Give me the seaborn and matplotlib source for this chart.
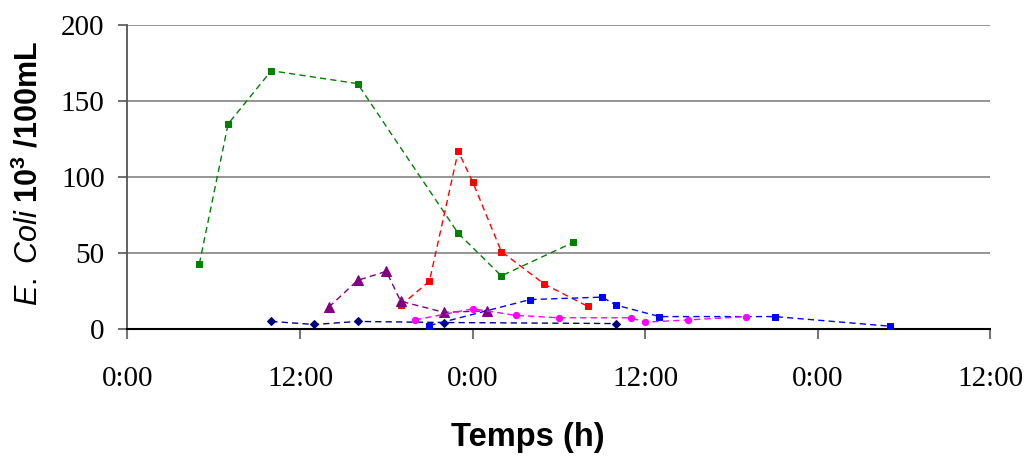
import matplotlib
matplotlib.use("Agg")
import matplotlib.pyplot as plt
import seaborn as sns
import pandas as pd

# hours since start (0:00 of day 1)
green_t = [5, 7, 10, 16, 23, 26, 31]
green_v = [43, 135, 170, 161.5, 63, 35, 57]
red_t = [19, 21, 23, 24, 26, 29, 32]
red_v = [15.5, 31.5, 117, 97, 51, 29.5, 15]
purple_t = [14, 16, 18, 19, 22, 25]
purple_v = [14.4, 32, 38, 18.3, 11, 12]
navy_t = [10, 13, 16, 22, 34]
navy_v = [5, 3, 5, 4.3, 3.6]
blue_t = [21, 28, 33, 34, 37, 45, 53]
blue_v = [2.3, 19.4, 21, 15.7, 8.2, 8.2, 1.9]
magenta_t = [20, 24, 27, 30, 35, 36, 39, 43]
magenta_v = [6, 13.3, 9, 7.4, 7.4, 4.5, 6, 8.2]

xticks = [0, 12, 24, 36, 48, 60]
xtick_labels = ["0:00", "12:00", "0:00", "12:00", "0:00", "12:00"]
yticks = [0, 50, 100, 150, 200]

sns.set_style("white")
plt.rcParams['mathtext.fontset'] = 'custom'
plt.rcParams['mathtext.rm'] = 'Liberation Sans'
plt.rcParams['mathtext.it'] = 'Liberation Sans:italic'
plt.rcParams['mathtext.bf'] = 'Liberation Sans:bold'
plt.rcParams['text.color'] = 'black'
plt.rcParams['axes.labelcolor'] = 'black'
plt.rcParams['xtick.color'] = 'black'
plt.rcParams['ytick.color'] = 'black'

fig = plt.figure(figsize=(10.24, 4.57), dpi=100)
ax = fig.add_axes([0.1245, 0.28, 0.8425, 0.665])

series = [
    (green_t, green_v, "#008000", "s", 4.5),
    (red_t, red_v, "#FF0000", "s", 4.5),
    (purple_t, purple_v, "#800080", "^", 7.5),
    (navy_t, navy_v, "#000080", "D", 4),
    (blue_t, blue_v, "#0000FF", "s", 4.5),
    (magenta_t, magenta_v, "#FF00FF", "o", 4.5),
]
for t, v, c, m, ms in series:
    df = pd.DataFrame({"t": t, "v": v})
    sns.lineplot(data=df, x="t", y="v", ax=ax, color=c, marker=m,
                 markersize=ms, markeredgecolor=c, linewidth=1.0,
                 dashes=False, linestyle=(0, (4.5, 3)), zorder=3)

ax.set_xlim(0, 60)
ax.set_ylim(0, 200)
ax.set_yticks(yticks)
ax.set_xticks(xticks)
ax.set_xticklabels(xtick_labels)
ax.yaxis.grid(True, color="#8c8c8c", linewidth=1.3)
ax.xaxis.grid(False)
for s in ["top", "right"]:
    ax.spines[s].set_visible(False)
ax.spines["left"].set_color("#555555")
ax.spines["bottom"].set_color("black")
ax.spines["left"].set_linewidth(1.3)
ax.spines["bottom"].set_linewidth(1.5)
ax.tick_params(axis="y", direction="out", length=6.5, width=1.2, color="#555555",
               left=True, pad=10, labelcolor="black")
ax.tick_params(axis="x", direction="out", length=7.5, width=1.5, color="#777777",
               bottom=True, pad=19, labelcolor="black")
for lab in ax.get_xticklabels() + ax.get_yticklabels():
    lab.set_fontfamily("Liberation Serif")
    lab.set_fontsize(21)

ax.set_xlabel("Temps (h)", fontfamily="Liberation Sans", fontweight="bold",
              fontsize=23.5, color="black")
ax.xaxis.set_label_coords(0.4635, -0.306)
ax.set_ylabel(r"$\mathit{E.\ Coli}\ \mathbf{10^3\ /100mL}$", fontsize=22,
              color="black")
ax.yaxis.set_label_coords(-0.097, 0.513)

fig.savefig("out.png", dpi=100)
